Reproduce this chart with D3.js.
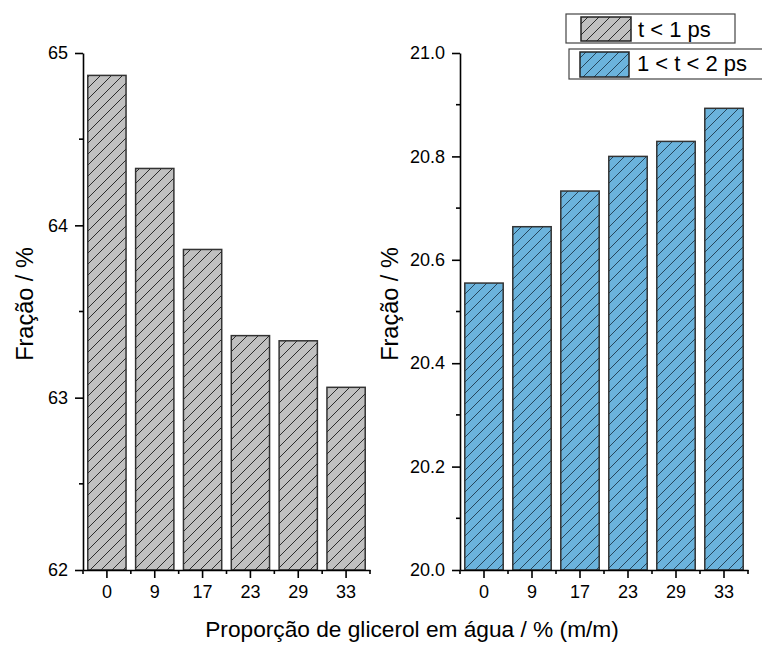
<!DOCTYPE html>
<html><head><meta charset="utf-8">
<script src="https://cdn.jsdelivr.net/npm/d3@7"></script>
<style>body{margin:0;background:#fff}svg{display:block}text{font-family:"Liberation Sans",Arial,sans-serif;fill:#000}</style>
</head><body>
<svg id="c" width="762" height="646"></svg>
<script>
const categories = ["0","9","17","23","29","33"];
const seriesShort = [64.87, 64.33, 63.86, 63.36, 63.33, 63.06];   // t < 1 ps
const seriesMid   = [20.555, 20.664, 20.733, 20.80, 20.829, 20.893]; // 1 < t < 2 ps
const leftTicks  = [62, 63, 64, 65];
const rightTicks = [20.0, 20.2, 20.4, 20.6, 20.8, 21.0];
const legendLabels = ["t < 1 ps", "1 < t < 2 ps"];
const xTitle = "Proporção de glicerol em água / % (m/m)";
const yTitle = "Fração / %";

const svg = d3.select("#c");
const defs = svg.append("defs");
function hatch(id, bg, line){
  const p = defs.append("pattern").attr("id", id).attr("patternUnits","userSpaceOnUse")
    .attr("width", 11).attr("height", 11);
  p.append("rect").attr("width",11).attr("height",11).attr("fill",bg);
  p.append("path").attr("d","M0,11L11,0M-2,2L2,-2M9,13L13,9")
    .attr("stroke",line).attr("stroke-width",0.9).attr("fill","none");
}
hatch("hg", "#c0c0c0", "#1a1a1a");
hatch("hb", "#6bb3dc", "#1e3a4e");

const bottomY = 570, topY = 53;

function panel(x0, x1, domain, ticks, minorStep, values, fill, fmt, titleX){
  const x = d3.scaleBand().domain(categories).range([x0, x1]).paddingInner(0.2).paddingOuter(0.1);
  const y = d3.scaleLinear().domain(domain).range([bottomY, topY]);
  const g = svg.append("g");
  g.selectAll("rect.bar").data(values).join("rect").attr("class","bar")
    .attr("x",(d,i)=>x(categories[i])).attr("width",x.bandwidth())
    .attr("y",d=>y(d)).attr("height",d=>bottomY - y(d))
    .attr("fill",fill).attr("stroke","#333").attr("stroke-width",1.5);
  // y axis
  const ya = d3.axisLeft(y).tickValues(ticks).tickSize(8).tickSizeOuter(0).tickPadding(7).tickFormat(fmt);
  const yg = g.append("g").attr("transform",`translate(${x0},0)`).call(ya);
  yg.select(".domain").attr("stroke-width",1.6);
  yg.selectAll(".tick line").attr("stroke-width",1.6);
  yg.selectAll("text").attr("font-size",18);
  const minors = d3.range(domain[0] + minorStep, domain[1], minorStep*2);
  g.selectAll("line.ym").data(minors).join("line").attr("class","ym")
    .attr("x1",x0-4).attr("x2",x0).attr("y1",d=>y(d)).attr("y2",d=>y(d))
    .attr("stroke","#000").attr("stroke-width",1.6);
  // x axis
  const xa = d3.axisBottom(x).tickSize(8).tickSizeOuter(0).tickPadding(7);
  const xg = g.append("g").attr("transform",`translate(0,${bottomY})`).call(xa);
  xg.select(".domain").attr("stroke-width",1.6);
  xg.selectAll(".tick line").attr("stroke-width",1.6);
  xg.selectAll("text").attr("font-size",18);
  const step = (x1 - x0) / categories.length;
  g.selectAll("line.xm").data(d3.range(categories.length + 1)).join("line").attr("class","xm")
    .attr("x1",i=>x0 + i*step).attr("x2",i=>x0 + i*step).attr("y1",bottomY).attr("y2",bottomY+4)
    .attr("stroke","#000").attr("stroke-width",1.6);
  // y title
  g.append("text").attr("transform",`translate(${titleX},304) rotate(-90)`)
    .attr("text-anchor","middle").attr("font-size",23.5).text(yTitle);
}
panel(83, 370, [62, 65], leftTicks, 0.5, seriesShort, "url(#hg)", d3.format("d"), 33);
panel(460, 748, [20, 21], rightTicks, 0.1, seriesMid, "url(#hb)", d3.format(".1f"), 398);

svg.append("text").attr("x",412).attr("y",637).attr("text-anchor","middle").attr("font-size",22.7).text(xTitle);

// legend
const leg = [
  {bx:566, by:14, bw:169, bh:29, sx:581, sy:17, sw:50, sh:24, tx:638, ty:37, fill:"url(#hg)"},
  {bx:569, by:49, bw:200, bh:30, sx:580, sy:52, sw:49, sh:25, tx:637, ty:71, fill:"url(#hb)"}
];
leg.forEach((l,i)=>{
  svg.append("rect").attr("x",l.bx).attr("y",l.by).attr("width",l.bw).attr("height",l.bh)
    .attr("fill","#fff").attr("stroke","#444").attr("stroke-width",1.2);
  svg.append("rect").attr("x",l.sx).attr("y",l.sy).attr("width",l.sw).attr("height",l.sh)
    .attr("fill",l.fill).attr("stroke","#222").attr("stroke-width",1.5);
  svg.append("text").attr("x",l.tx).attr("y",l.ty).attr("font-size",22).text(legendLabels[i]);
});
</script>
</body></html>
